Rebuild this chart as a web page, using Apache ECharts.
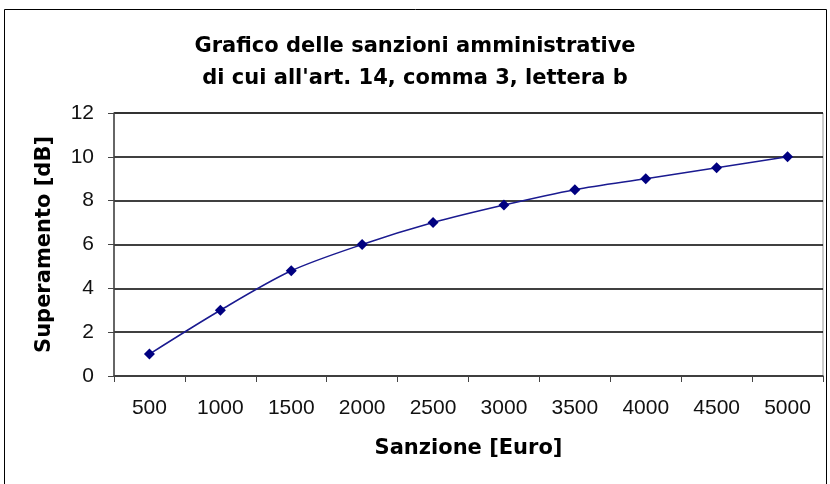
<!DOCTYPE html>
<html>
<head>
<meta charset="utf-8">
<script src="https://cdn.jsdelivr.net/npm/echarts@6/dist/echarts.min.js"></script>
<style>
  html, body { margin: 0; padding: 0; background: #fff; }
  #chart { width: 830px; height: 484px; }
</style>
</head>
<body>
<div id="chart"></div>
<script>
// dati
var sanzioni = ['500', '1000', '1500', '2000', '2500', '3000', '3500', '4000', '4500', '5000'];
var superamento = [1, 3, 4.8, 6, 7, 7.8, 8.5, 9, 9.5, 10];
var yTicks = [0, 2, 4, 6, 8, 10, 12];

var boldFont = 'DejaVu Sans, Verdana, sans-serif';
var plainFont = 'Liberation Sans, Arial, sans-serif';

var chart = echarts.init(document.getElementById('chart'));

chart.setOption({
    animation: false,
    backgroundColor: '#fff',
    textStyle: { fontFamily: plainFont },
    title: {
        text: 'Grafico delle sanzioni amministrative\ndi cui all\'art. 14, comma 3, lettera b',
        left: 'center',
        top: 26,
        textStyle: {
            fontFamily: boldFont,
            fontSize: 21,
            fontWeight: 'bold',
            color: '#000',
            lineHeight: 32
        }
    },
    graphic: [{
        type: 'rect',
        shape: { x: 4.5, y: 9.5, width: 822, height: 490 },
        style: { fill: null, stroke: '#000', lineWidth: 1 },
        silent: true
    }],
    grid: {
        left: 114,
        right: 7,
        top: 113,
        bottom: 108,
        show: true,
        borderColor: '#999',
        borderWidth: 1
    },
    xAxis: {
        type: 'category',
        data: sanzioni,
        boundaryGap: true,
        name: 'Sanzione [Euro]',
        nameLocation: 'middle',
        nameGap: 62,
        nameTextStyle: { fontFamily: boldFont, fontSize: 21, fontWeight: 'bold', color: '#000' },
        axisLine: { lineStyle: { color: '#444', width: 1.5 } },
        axisTick: { show: true, alignWithLabel: false, length: 6, lineStyle: { color: '#444' } },
        axisLabel: { fontSize: 21, color: '#111', margin: 22 },
        splitLine: { show: false }
    },
    yAxis: {
        type: 'value',
        min: yTicks[0],
        max: yTicks[yTicks.length - 1],
        interval: 2,
        name: 'Superamento [dB]',
        nameLocation: 'middle',
        nameGap: 59,
        nameTextStyle: { fontFamily: boldFont, fontSize: 21, fontWeight: 'bold', color: '#000' },
        axisLine: { show: true, lineStyle: { color: '#444', width: 1.5 } },
        axisTick: { show: true, length: 6, lineStyle: { color: '#444' } },
        axisLabel: { fontSize: 21, color: '#111', margin: 20 },
        splitLine: { show: true, lineStyle: { color: '#000', width: 1.5 } }
    },
    series: [{
        name: 'Superamento',
        type: 'line',
        data: superamento,
        smooth: 0.3,
        symbol: 'diamond',
        symbolSize: 11,
        itemStyle: { color: '#000080' },
        lineStyle: { color: '#1a1a90', width: 1.5 }
    }]
});
</script>
</body>
</html>
